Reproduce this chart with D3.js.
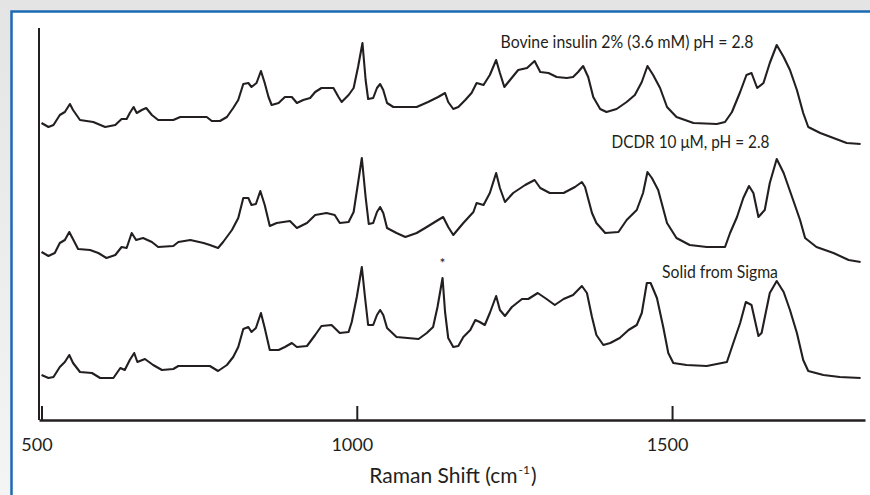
<!DOCTYPE html>
<html>
<head>
<meta charset="utf-8">
<script src="https://cdn.jsdelivr.net/npm/d3@7"></script>
<style>
  body { margin: 0; background: #fff; }
  svg { display: block; }
</style>
</head>
<body>
<svg id="chart" width="870" height="495"></svg>
<script>
// Raman spectra, wavenumber (cm-1) / intensity (a.u., each trace from its own baseline)
var insulinShift = [500,511,519,529,537,545,550,561,582,601,617,627,635,640,646,651,659,666,675,685,709,720,746,762,770,783,794,804,812,820,828,833,841,848,854,860,865,876,886,897,905,915,926,934,944,963,971,976,987,995,1002,1009,1014,1018,1026,1032,1037,1042,1048,1058,1095,1113,1129,1140,1145,1153,1161,1172,1182,1190,1201,1211,1221,1227,1234,1243,1256,1270,1282,1291,1304,1317,1333,1343,1351,1359,1367,1375,1386,1396,1412,1428,1441,1452,1461,1470,1481,1492,1507,1534,1571,1584,1595,1608,1618,1626,1635,1645,1655,1666,1677,1687,1698,1708,1716,1735,1756,1777,1799];
var insulinInt = [21,17,19,29,32,40,34,24,22,17,19,25,25,31,37,31,34,36,29,24,24,27,27,27,23,23,27,36,44,60,61,57,61,73,61,47,39,41,47,47,41,44,46,52,56,56,47,42,49,56,77,101,64,45,46,56,60,54,41,37,37,42,47,51,42,35,37,44,51,61,59,69,84,71,57,64,74,76,83,72,71,67,66,67,72,78,67,47,35,32,35,42,49,62,78,69,56,37,27,21,20,22,32,52,69,71,56,61,81,99,87,74,54,31,17,11,6,1,0];

var dcdrShift = [500,511,521,529,537,544,549,558,577,590,603,617,627,635,643,650,661,675,685,709,717,736,757,767,780,788,802,812,820,828,833,840,847,854,862,873,894,905,921,934,952,965,973,987,995,1002,1008,1014,1019,1026,1032,1037,1042,1048,1063,1077,1095,1111,1129,1137,1145,1153,1169,1185,1190,1201,1211,1221,1227,1235,1248,1267,1282,1291,1306,1328,1346,1357,1362,1373,1380,1394,1415,1428,1444,1454,1461,1468,1478,1492,1507,1528,1555,1584,1592,1603,1613,1622,1629,1637,1647,1655,1666,1677,1692,1703,1711,1729,1756,1780,1799];
var dcdrInt = [10,6,9,19,22,30,24,13,12,9,4,7,15,14,29,22,24,20,15,16,20,22,19,17,14,20,32,44,64,64,57,58,71,57,36,39,41,34,39,47,49,47,39,40,50,79,104,65,38,39,50,55,49,34,29,25,29,35,42,45,35,27,39,50,59,57,69,89,74,60,69,77,82,74,69,69,75,80,75,49,39,29,30,42,52,69,90,84,72,39,24,17,15,15,29,45,64,76,69,45,52,79,103,89,62,42,24,15,9,2,0];

var solidShift = [500,511,519,529,537,544,550,561,580,593,614,625,632,640,647,652,664,677,691,709,717,751,767,780,794,804,812,820,828,833,840,848,854,862,876,886,897,905,921,934,944,960,973,987,992,1000,1008,1013,1018,1026,1032,1037,1042,1048,1063,1098,1111,1121,1128,1136,1140,1145,1153,1161,1169,1180,1188,1195,1203,1211,1221,1227,1235,1246,1262,1272,1287,1301,1314,1328,1343,1357,1365,1373,1380,1391,1402,1417,1431,1444,1452,1460,1466,1476,1486,1494,1502,1523,1555,1587,1595,1608,1617,1626,1637,1642,1655,1666,1677,1687,1698,1708,1716,1740,1766,1799];
var solidInt = [4,1,2,12,17,24,16,7,6,1,1,11,9,19,26,17,20,14,9,10,13,13,13,8,14,22,32,50,52,47,51,66,51,29,29,32,36,32,33,44,53,54,46,47,57,82,112,82,54,54,64,69,64,51,42,40,46,52,72,101,67,41,32,33,42,49,59,57,54,66,83,69,63,72,80,80,86,80,74,80,84,93,86,62,44,34,36,41,49,54,66,96,96,81,52,26,16,14,13,17,32,56,77,74,43,46,86,98,87,69,46,19,8,4,2,1];

var seriesNames = ["Bovine insulin 2% (3.6 mM) pH = 2.8", "DCDR 10 \u03bcM, pH = 2.8", "Solid from Sigma"];
var seriesOffsets = [276, 158, 41];
var xTicks = [500, 1000, 1500];

var series = [
  {shift: insulinShift, value: insulinInt, offset: seriesOffsets[0]},
  {shift: dcdrShift, value: dcdrInt, offset: seriesOffsets[1]},
  {shift: solidShift, value: solidInt, offset: seriesOffsets[2]}
];

var font = "Lato, 'Open Sans', sans-serif";
var ink = "#231f20";

var svg = d3.select("#chart");

// page backdrop and blue frame
var bg = svg.append("defs").append("linearGradient")
    .attr("id", "bg").attr("x1", 0).attr("y1", 0).attr("x2", 0).attr("y2", 1);
bg.append("stop").attr("offset", "0").attr("stop-color", "#e4e4e4");
bg.append("stop").attr("offset", "1").attr("stop-color", "#f4f4f4");
svg.append("rect").attr("width", 870).attr("height", 495).attr("fill", "url(#bg)");
svg.append("rect")
    .attr("x", 11.5).attr("y", 11.5).attr("width", 900).attr("height", 520)
    .attr("fill", "#fff").attr("stroke", "#1b6ab4").attr("stroke-width", 2.5);

var x = d3.scaleLinear().domain([496, 1806]).range([39, 865]);
var y = d3.scaleLinear().domain([0, 392]).range([420, 28]);

var line = d3.line()
    .x(function(d) { return x(d[0]); })
    .y(function(d) { return y(d[1]); });

series.forEach(function(s) {
  var pts = s.shift.map(function(v, i) { return [v, s.value[i] + s.offset]; });
  svg.append("path")
      .datum(pts)
      .attr("d", line)
      .attr("fill", "none")
      .attr("stroke", ink)
      .attr("stroke-width", 2.1)
      .attr("stroke-linejoin", "round");
});

// axes
svg.append("line")
    .attr("x1", x.range()[0]).attr("x2", x.range()[0])
    .attr("y1", y.range()[1]).attr("y2", y.range()[0])
    .attr("stroke", ink).attr("stroke-width", 2);

var xAxis = svg.append("g")
    .attr("transform", "translate(0," + y(0) + ")")
    .call(d3.axisBottom(x).tickValues(xTicks).tickFormat(d3.format("d"))
      .tickSize(-14).tickSizeOuter(0).tickPadding(18));
xAxis.select(".domain").attr("stroke", ink).attr("stroke-width", 2.5);
xAxis.selectAll(".tick line").attr("stroke", ink).attr("stroke-width", 2);
xAxis.selectAll(".tick text")
    .attr("dx", "-5")
    .attr("fill", ink)
    .style("font-family", font)
    .style("font-size", "18px");

// axis title, with the -1 raised as a superscript
var title = svg.append("text")
    .attr("x", 453).attr("y", 483)
    .attr("text-anchor", "middle")
    .attr("fill", ink)
    .style("font-family", font)
    .style("font-size", "21px");
title.append("tspan").text("Raman Shift (cm");
title.append("tspan").attr("dx", 1).attr("dy", -9).style("font-size", "12px").text("-1");
title.append("tspan").attr("dx", 1).attr("dy", 9).text(")");

// series labels
var labelPos = [[1228, 372], [1404, 272.5], [1484, 142]];
var labelWidth = [253, 158, 116];
labelPos.forEach(function(p, i) {
  svg.append("text")
      .attr("x", x(p[0])).attr("y", y(p[1]))
      .attr("fill", ink)
      .attr("textLength", labelWidth[i])
      .attr("lengthAdjust", "spacingAndGlyphs")
      .style("font-family", font)
      .style("font-size", "17px")
      .text(seriesNames[i]);
});

svg.append("text")
    .attr("x", x(1136)).attr("y", y(152))
    .attr("text-anchor", "middle")
    .attr("fill", ink)
    .style("font-family", font)
    .style("font-size", "14px")
    .text("*");
</script>
</body>
</html>
